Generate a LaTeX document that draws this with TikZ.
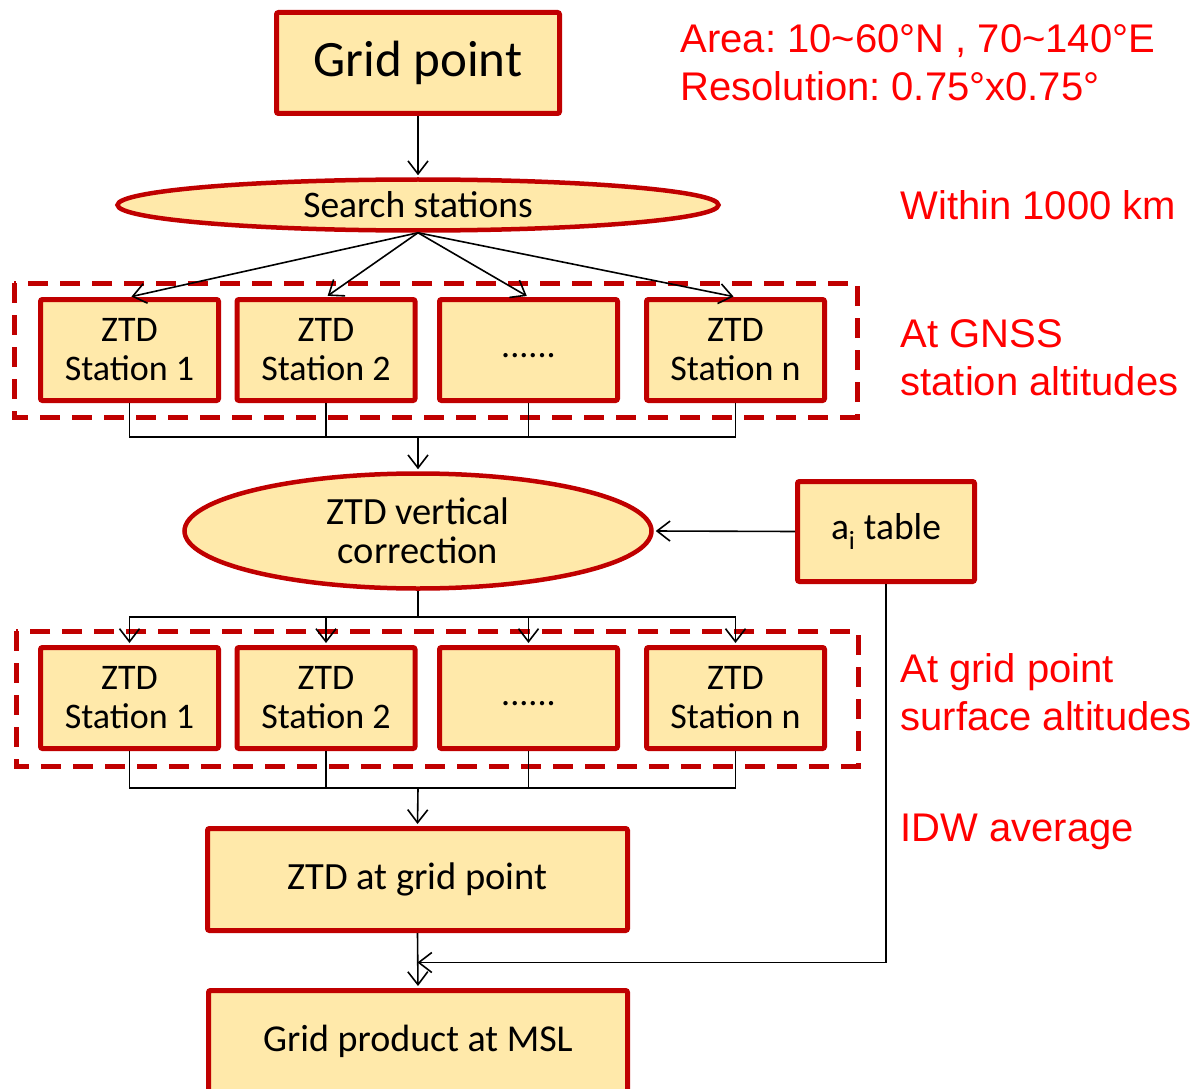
\documentclass[tikz,border=0pt]{standalone}
\usepackage{fontspec}
\setmainfont{Carlito}
\newfontfamily\notefont{Liberation Sans}
\usetikzlibrary{shapes.geometric,arrows.meta}
\definecolor{boxfill}{HTML}{FFE9AA}
\definecolor{boxline}{HTML}{C00000}
\definecolor{notered}{HTML}{FF0000}
\frenchspacing
\begin{document}
\begin{tikzpicture}[x=1pt, y=-1pt, font=\fontsize{38.5}{42}\selectfont,
  blk/.style={draw=boxline, fill=boxfill, line width=5pt, rounded corners=2pt, inner sep=0pt, align=center},
  stn/.style={blk, minimum width=178, minimum height=101, font=\fontsize{36}{39}\selectfont},
  oval/.style={ellipse, draw=boxline, fill=boxfill, line width=4.5pt, inner sep=0pt, align=center},
  group/.style={draw=boxline, line width=5pt, dash pattern=on 20pt off 12pt},
  link/.style={line width=1.6pt},
  flow/.style={link, -{Straight Barb[length=13pt, width=20pt, line width=1.6pt]}, shorten >=2pt},
  note/.style={text=notered, font=\notefont\fontsize{40}{47}\selectfont, anchor=base west}]
\useasboundingbox (0,0) rectangle (1195,1089);
\node[blk, minimum width=283, minimum height=101, font=\fontsize{51}{55}\selectfont] (grid) at (418,63) {Grid point};
\node[oval, minimum width=601, minimum height=51, font=\fontsize{37.5}{40}\selectfont] (search) at (418,205) {Search stations};
\node[oval, minimum width=467, minimum height=115, font=\fontsize{38.5}{39}\selectfont] (corr) at (418,531) {ZTD vertical\\correction};
\node[blk, minimum width=177, minimum height=100, font=\fontsize{37.5}{40}\selectfont] (tab) at (886,531.5) {a\textsubscript{i} table};
\node[blk, minimum width=420, minimum height=102] (ztd) at (417.5,879.5) {ZTD at grid point};
\node[blk, minimum width=419, minimum height=101, font=\fontsize{38}{42}\selectfont] (prod) at (418,1041) {Grid product at MSL};
\foreach \r/\y in {1/350,2/698} {
  \foreach \i/\x/\name in {1/129.5/{ZTD\\Station 1},2/326/{ZTD\\Station 2},3/528.5/{\strut......},4/735.5/{ZTD\\Station n}} {
    \node[stn] (s\r\i) at (\x,\y) {\name};
  }
}
% dashed groups
\draw[group] ([shift={(-24,-14)}]s11.north west) rectangle ([shift={(30,14)}]s14.south east);
\draw[group] ([shift={(-22,-14)}]s21.north west) rectangle ([shift={(31,15)}]s24.south east);
% connectors
\coordinate (bus1) at (418,437);
\coordinate (bus2) at (418,617);
\coordinate (bus3) at (418,788);
\coordinate (merge) at ([yshift=-29.5]ztd.south);
\draw[flow] (grid.south) -- (search.north);
\foreach \i in {1,...,4} {
  \draw[flow] (search.south) -- (s1\i.north);
  \draw[link] (s1\i.south) |- (bus1);
  \draw[flow] (bus2) -| (s2\i.north);
  \draw[link] (s2\i.south) |- (bus3);
}
\draw[flow] (bus1) -- (corr.north);
\draw[link] (corr.south) -- (bus2);
\draw[flow] (bus3) -- (ztd.north);
\draw[flow] (tab.west) -- (corr.east);
\draw[flow, shorten >=0pt] (tab.south) |- (merge);
\draw[flow] (ztd.south) -- (prod.north);
% notes
\node[note] (area) at (677,53) {Area: 10\textasciitilde 60°N , 70\textasciitilde 140°E};
\node[note] (res) at (677,101) {Resolution: 0.75°x0.75°};
\node[note] (within) at (897,219) {Within 1000 km};
\node[note] (gnss) at (897,347) {At GNSS};
\node[note] (gnss2) at (897,395) {station altitudes};
\node[note] (gp) at (897,682) {At grid point};
\node[note] (gp2) at (897,730) {surface altitudes};
\node[note] (idw) at (897,841) {IDW average};
\end{tikzpicture}
\end{document}
